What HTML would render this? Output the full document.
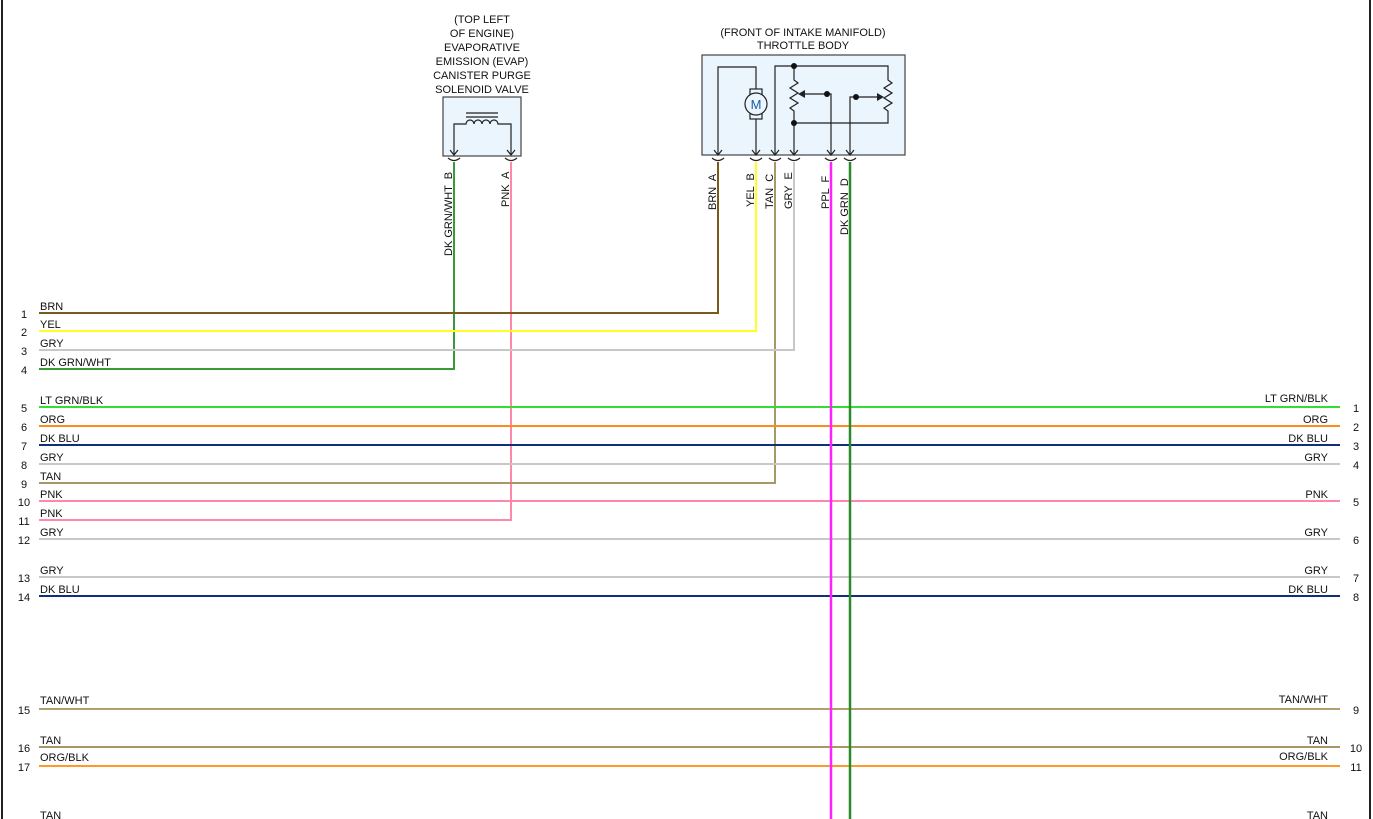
<!DOCTYPE html>
<html><head><meta charset="utf-8"><style>
body{margin:0;background:#fff}
svg{display:block;font-family:"Liberation Sans",Arial,sans-serif}
text{white-space:pre}
</style></head><body>
<svg width="1373" height="819" viewBox="0 0 1373 819" xmlns="http://www.w3.org/2000/svg">
<rect x="0" y="0" width="1373" height="819" fill="#fff"/>
<line x1="2" y1="0" x2="2" y2="819" stroke="#222" stroke-width="2"/>
<line x1="1370" y1="0" x2="1370" y2="819" stroke="#222" stroke-width="2"/>

<g font-size="11" fill="#111" text-anchor="middle">
<text x="482" y="23">(TOP LEFT</text>
<text x="482" y="37">OF ENGINE)</text>
<text x="482" y="51">EVAPORATIVE</text>
<text x="482" y="65">EMISSION (EVAP)</text>
<text x="482" y="79">CANISTER PURGE</text>
<text x="482" y="93">SOLENOID VALVE</text>
<text x="803" y="36">(FRONT OF INTAKE MANIFOLD)</text>
<text x="803" y="49">THROTTLE BODY</text>
</g>

<rect x="443" y="97" width="78" height="59" fill="#eaf5fd" stroke="#444" stroke-width="1.2"/>
<g stroke="#222" fill="none" stroke-width="1.2">
<line x1="466" y1="113" x2="498" y2="113"/><line x1="466" y1="117" x2="498" y2="117"/>
<path d="M454 154 V124 H466 a4 4 0 0 1 8 0 a4 4 0 0 1 8 0 a4 4 0 0 1 8 0 a4 4 0 0 1 8 0 H511 V154"/>
<path d="M450 150 L454 155 L458 150 M507 150 L511 155 L515 150"/>
<path d="M448 158 q6 5 12 0 M505 158 q6 5 12 0"/>
</g>

<rect x="702" y="55" width="203" height="100" fill="#eaf5fd" stroke="#444" stroke-width="1.2"/>
<g stroke="#222" fill="none" stroke-width="1.2">
<path d="M718 154 V67 H756 V93"/>
<rect x="750" y="89" width="12" height="30" fill="#eaf5fd"/>
<circle cx="756" cy="104" r="11" fill="#eaf5fd"/>
<path d="M756 119 V154"/>
<path d="M775 154 V66 H888 V80 l4 3 -8 5 8 5 -8 5 8 5 -8 5 4 3 V123 H794"/>
<path d="M794 66 V80 l4 3 -8 5 8 5 -8 5 8 5 -8 5 4 3 V154"/>
<path d="M827 94 H800 M831 154 V94 H827"/>
<path d="M850 154 V97 H882"/>
<path d="M714 150 L718 155 L722 150 M752 150 L756 155 L760 150 M771 150 L775 155 L779 150 M790 150 L794 155 L798 150 M827 150 L831 155 L835 150 M846 150 L850 155 L854 150"/>
<path d="M712 158 q6 5 12 0 M750 158 q6 5 12 0 M769 158 q6 5 12 0 M788 158 q6 5 12 0 M825 158 q6 5 12 0 M844 158 q6 5 12 0"/>
</g>
<text x="756" y="109" font-size="13" fill="#1a5ca8" text-anchor="middle">M</text>
<polygon points="798,94 805,90 805,98" fill="#222"/>
<polygon points="884,97 877,93 877,101" fill="#222"/>
<g fill="#111"><circle cx="794" cy="66" r="3"/><circle cx="794" cy="123" r="3"/><circle cx="827" cy="94" r="3"/><circle cx="856" cy="97" r="3"/></g>

<g font-size="11" fill="#111">
<text transform="translate(452,256) rotate(-90)">DK GRN/WHT  B</text>
<text transform="translate(509,207) rotate(-90)">PNK  A</text>
<text transform="translate(716,210) rotate(-90)">BRN  A</text>
<text transform="translate(754,207) rotate(-90)">YEL  B</text>
<text transform="translate(773,209) rotate(-90)">TAN  C</text>
<text transform="translate(792,209) rotate(-90)">GRY  E</text>
<text transform="translate(829,209) rotate(-90)">PPL  F</text>
<text transform="translate(848,235) rotate(-90)">DK GRN  D</text>
</g>

<g stroke-width="2" fill="none">
<path d="M454 162 V369 H39" stroke="#3a9a3a"/>
<path d="M511 162 V520 H39" stroke="#ff88a8"/>
<path d="M718 162 V313 H39" stroke="#7a5a1a"/>
<path d="M756 162 V331 H39" stroke="#ffff22"/>
<path d="M775 162 V483 H39" stroke="#a89868"/>
<path d="M794 162 V350 H39" stroke="#c8c8c8"/>
</g>

<g stroke-width="2">
<line x1="39" y1="407" x2="1340" y2="407" stroke="#33dd33"/>
<line x1="39" y1="426" x2="1340" y2="426" stroke="#ff8c1a"/>
<line x1="39" y1="445" x2="1340" y2="445" stroke="#0f2f7a"/>
<line x1="39" y1="464" x2="1340" y2="464" stroke="#c8c8c8"/>
<line x1="39" y1="501" x2="1340" y2="501" stroke="#ff88a8"/>
<line x1="39" y1="539" x2="1340" y2="539" stroke="#c8c8c8"/>
<line x1="39" y1="577" x2="1340" y2="577" stroke="#c8c8c8"/>
<line x1="39" y1="596" x2="1340" y2="596" stroke="#0f2f7a"/>
<line x1="39" y1="709" x2="1340" y2="709" stroke="#b0a070"/>
<line x1="39" y1="747" x2="1340" y2="747" stroke="#a89868"/>
<line x1="39" y1="766" x2="1340" y2="766" stroke="#ff9a2a"/>
</g>
<line x1="831" y1="162" x2="831" y2="819" stroke="#ff22ff" stroke-width="2.5"/>
<line x1="850" y1="162" x2="850" y2="819" stroke="#2a8a2a" stroke-width="2.5"/>

<g font-size="11" fill="#111">
<text x="40" y="310">BRN</text><text x="40" y="328">YEL</text><text x="40" y="347">GRY</text><text x="40" y="366">DK GRN/WHT</text>
<text x="40" y="404">LT GRN/BLK</text><text x="40" y="423">ORG</text><text x="40" y="442">DK BLU</text><text x="40" y="461">GRY</text>
<text x="40" y="480">TAN</text><text x="40" y="498">PNK</text><text x="40" y="517">PNK</text><text x="40" y="536">GRY</text>
<text x="40" y="574">GRY</text><text x="40" y="593">DK BLU</text><text x="40" y="704">TAN/WHT</text><text x="40" y="744">TAN</text>
<text x="40" y="761">ORG/BLK</text><text x="40" y="819">TAN</text>
</g>
<g font-size="11" fill="#111" text-anchor="end">
<text x="1328" y="402">LT GRN/BLK</text><text x="1328" y="423">ORG</text><text x="1328" y="442">DK BLU</text><text x="1328" y="461">GRY</text>
<text x="1328" y="498">PNK</text><text x="1328" y="536">GRY</text><text x="1328" y="574">GRY</text><text x="1328" y="593">DK BLU</text>
<text x="1328" y="703">TAN/WHT</text><text x="1328" y="744">TAN</text><text x="1328" y="760">ORG/BLK</text><text x="1328" y="819">TAN</text>
</g>
<g font-size="11" fill="#111" text-anchor="middle">
<text x="24" y="318">1</text><text x="24" y="336">2</text><text x="24" y="355">3</text><text x="24" y="374">4</text>
<text x="24" y="412">5</text><text x="24" y="431">6</text><text x="24" y="450">7</text><text x="24" y="469">8</text>
<text x="24" y="488">9</text><text x="24" y="506">10</text><text x="24" y="525">11</text><text x="24" y="544">12</text>
<text x="24" y="582">13</text><text x="24" y="601">14</text><text x="24" y="714">15</text><text x="24" y="752">16</text><text x="24" y="771">17</text>
<text x="1356" y="412">1</text><text x="1356" y="431">2</text><text x="1356" y="450">3</text><text x="1356" y="469">4</text>
<text x="1356" y="506">5</text><text x="1356" y="544">6</text><text x="1356" y="582">7</text><text x="1356" y="601">8</text>
<text x="1356" y="714">9</text><text x="1356" y="752">10</text><text x="1356" y="771">11</text>
</g>
</svg>
</body></html>
